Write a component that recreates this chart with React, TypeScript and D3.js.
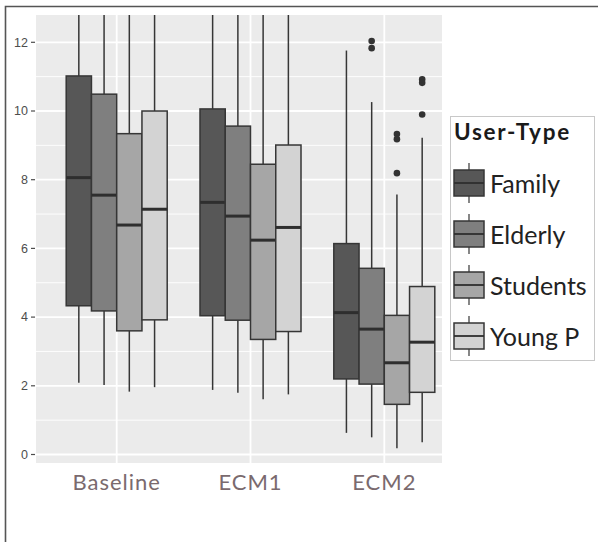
import React from "react";
import * as d3 from "d3";

// Phases and user types
const phases = ["Baseline", "ECM1", "ECM2"];
const userTypes = ["Family", "Elderly", "Students", "Young P"];
const fills = ["#575757", "#7f7f7f", "#a6a6a6", "#d3d3d3"];
const yTicks = [0, 2, 4, 6, 8, 10, 12];

// Five-number summaries per phase, one entry per user type
const baselineStats = [
  { low: 2.09, q1: 4.33, median: 8.06, q3: 11.02, high: 15.5 },
  { low: 2.02, q1: 4.18, median: 7.55, q3: 10.49, high: 15.0 },
  { low: 1.83, q1: 3.6, median: 6.68, q3: 9.34, high: 14.2 },
  { low: 1.96, q1: 3.92, median: 7.14, q3: 10.0, high: 14.8 },
];
const ecm1Stats = [
  { low: 1.88, q1: 4.04, median: 7.34, q3: 10.06, high: 14.6 },
  { low: 1.8, q1: 3.91, median: 6.94, q3: 9.56, high: 14.2 },
  { low: 1.61, q1: 3.35, median: 6.24, q3: 8.45, high: 13.7 },
  { low: 1.75, q1: 3.58, median: 6.61, q3: 9.01, high: 14.0 },
];
const ecm2Stats = [
  { low: 0.63, q1: 2.2, median: 4.13, q3: 6.14, high: 11.76 },
  { low: 0.5, q1: 2.05, median: 3.65, q3: 5.42, high: 10.26 },
  { low: 0.18, q1: 1.46, median: 2.67, q3: 4.05, high: 7.57 },
  { low: 0.36, q1: 1.81, median: 3.27, q3: 4.89, high: 9.22 },
];
const ecm2Outliers = [[], [12.04, 11.83], [9.33, 9.18, 8.19], [10.92, 10.82, 9.9]];

const statsByPhase = [baselineStats, ecm1Stats, ecm2Stats];
const outliersByPhase = [[[], [], [], []], [[], [], [], []], ecm2Outliers];

const W = 598;
const H = 542;
const panel = { left: 36, right: 442, top: 15, bottom: 463 };
const FONT = "Lato, 'Open Sans', sans-serif";

export default function App() {
  const y = d3.scaleLinear().domain([0, 12]).range([454.5, 42.3]);
  const x = d3.scalePoint<string>().domain(phases).range([116.7, 384.3]);
  const inner = d3.scaleBand<string>().domain(userTypes).range([-50.5, 50.5]);
  const bw = inner.bandwidth();

  const majorY = yTicks;
  const minorY = d3.range(1, 13, 2);

  const lineColor = "#363636";

  return (
    <svg
      width={W}
      height={H}
      style={{ position: "absolute", left: 0, top: 0, display: "block", background: "#fff" }}
    >
      <defs>
        <clipPath id="panel-clip">
          <rect x={panel.left} y={panel.top} width={panel.right - panel.left} height={panel.bottom - panel.top} />
        </clipPath>
      </defs>

      {/* frame */}
      <path d={`M5.5,${H} V6.5 H${W}`} fill="none" stroke="#555" strokeWidth={1.6} />

      {/* panel background */}
      <rect
        x={panel.left}
        y={panel.top}
        width={panel.right - panel.left}
        height={panel.bottom - panel.top}
        fill="#ebebeb"
      />
      {minorY.map((v) => (
        <line key={"mi" + v} x1={panel.left} x2={panel.right} y1={y(v)} y2={y(v)} stroke="#fff" strokeWidth={0.9} />
      ))}
      {majorY.map((v) => (
        <line key={"ma" + v} x1={panel.left} x2={panel.right} y1={y(v)} y2={y(v)} stroke="#fff" strokeWidth={1.8} />
      ))}
      {phases.map((p) => (
        <line key={"vx" + p} x1={x(p)} x2={x(p)} y1={panel.top} y2={panel.bottom} stroke="#fff" strokeWidth={1.8} />
      ))}

      {/* boxes */}
      <g clipPath="url(#panel-clip)">
        {phases.map((p, pi) =>
          userTypes.map((u, ui) => {
            const s = statsByPhase[pi][ui];
            const x0 = (x(p) as number) + (inner(u) as number);
            const cx = x0 + bw / 2;
            return (
              <g key={p + u}>
                <line x1={cx} x2={cx} y1={y(s.q3)} y2={y(s.high)} stroke={lineColor} strokeWidth={1.5} />
                <line x1={cx} x2={cx} y1={y(s.q1)} y2={y(s.low)} stroke={lineColor} strokeWidth={1.5} />
                <rect
                  x={x0}
                  y={y(s.q3)}
                  width={bw}
                  height={y(s.q1) - y(s.q3)}
                  fill={fills[ui]}
                  stroke={lineColor}
                  strokeWidth={1.5}
                />
                <line x1={x0} x2={x0 + bw} y1={y(s.median)} y2={y(s.median)} stroke="#2e2e2e" strokeWidth={3} />
                {outliersByPhase[pi][ui].map((o, oi) => (
                  <circle key={oi} cx={cx} cy={y(o)} r={3.3} fill="#333" />
                ))}
              </g>
            );
          })
        )}
      </g>

      {/* y axis */}
      {yTicks.map((v) => (
        <g key={"yt" + v}>
          <line x1={31} x2={35} y1={y(v)} y2={y(v)} stroke="#4d4d4d" strokeWidth={1.2} />
          <text
            x={28}
            y={y(v)}
            dy="0.35em"
            textAnchor="end"
            fontFamily="Arial, 'Liberation Sans', sans-serif"
            fontSize={12.5}
            fill="#4d4d4d"
          >
            {v}
          </text>
        </g>
      ))}

      {/* x axis labels */}
      {phases.map((p) => (
        <text
          key={"xl" + p}
          x={x(p)}
          y={490}
          textAnchor="middle"
          fontFamily={FONT}
          fontSize={22}
          letterSpacing={1}
          fill="#7a6a6e"
        >
          {p}
        </text>
      ))}

      {/* legend */}
      <rect x={450.5} y={116.5} width={144} height={244} fill="#fff" stroke="#c8c8c8" strokeWidth={1} />
      <text x={454} y={139.5} fontFamily={FONT} fontWeight="bold" fontSize={22.5} letterSpacing={1.7} fill="#1a1a1a">
        User-Type
      </text>
      {userTypes.map((u, i) => {
        const cy = 183 + i * 51;
        const kx = 454;
        const kw = 30;
        return (
          <g key={"lg" + u}>
            <line x1={kx + kw / 2} x2={kx + kw / 2} y1={cy - 20} y2={cy + 20} stroke={lineColor} strokeWidth={1.2} />
            <rect x={kx} y={cy - 13} width={kw} height={26} fill={fills[i]} stroke={lineColor} strokeWidth={1.5} />
            <line x1={kx} x2={kx + kw} y1={cy} y2={cy} stroke="#2e2e2e" strokeWidth={1.8} />
            <text x={490} y={cy + 9.5} fontFamily={FONT} fontSize={25} fill="#222">
              {u}
            </text>
          </g>
        );
      })}
    </svg>
  );
}
